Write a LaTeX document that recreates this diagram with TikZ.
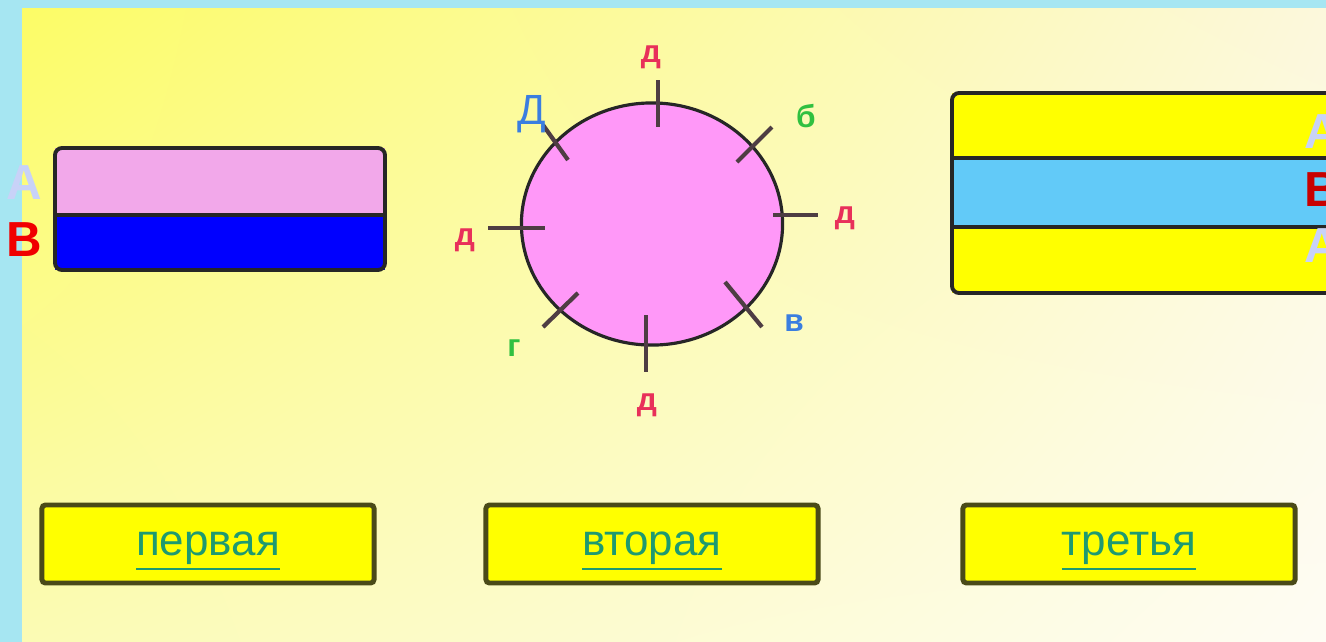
\documentclass[tikz,border=0pt]{standalone}
\usepackage{fontspec}
\setmainfont{Liberation Sans}
\usetikzlibrary{shapes.geometric,shadings}
\definecolor{skyback}{HTML}{A6E6F2}
\definecolor{panelA}{HTML}{FCFC66}
\definecolor{panelB}{HTML}{FCF8DC}
\definecolor{panelC}{HTML}{FBFBB4}
\definecolor{panelD}{HTML}{FEFCF4}
\definecolor{pinkband}{HTML}{F2A8EA}
\definecolor{blueband}{HTML}{0000FF}
\definecolor{yellowband}{HTML}{FFFF00}
\definecolor{cyanband}{HTML}{62CAF8}
\definecolor{diskpink}{HTML}{FF98F8}
\definecolor{lavender}{HTML}{C8D2F8}
\definecolor{redletter}{HTML}{F00000}
\definecolor{darkred}{HTML}{C80000}
\definecolor{rosered}{HTML}{E8305A}
\definecolor{leafgreen}{HTML}{30C040}
\definecolor{inkblue}{HTML}{3A7EE0}
\definecolor{tealtext}{HTML}{1E9A70}
\definecolor{olivedark}{HTML}{4A4A18}
\tikzset{
  band/.style={draw=black!85, line width=1.1pt},
  tick/.style={draw=black!80!magenta, line width=1.2pt},
  side/.style={font=\fontsize{14}{14}\selectfont\bfseries, inner sep=0pt},
  lett/.style={font=\fontsize{9}{9}\selectfont\bfseries, inner sep=0pt},
  btn/.style={draw=olivedark, fill=yellowband, line width=1.4pt, rounded corners=1pt,
    minimum width=3.32cm, minimum height=0.78cm, text=tealtext,
    text height=0.22cm, text depth=0pt,
    font=\fontsize{12.5}{12.5}\selectfont}
}

\begin{document}
\begin{tikzpicture}[x=0.01cm, y=-0.01cm]
    \useasboundingbox (0,0) rectangle (1326,642);
    \clip (0,0) rectangle (1326,642);

    % Background and panel
    \fill[skyback] (0,0) rectangle (1326,642);
    \shade[upper left=panelA, upper right=panelB, lower left=panelC, lower right=panelD]
      (22,8) rectangle (1326,642);

    % First flag: two bands
    \fill[pinkband] (55,148) rectangle (385,215);
    \fill[blueband] (55,215) rectangle (385,270);
    \draw[band] (55,215) -- (385,215);
    \draw[band, rounded corners=2pt] (55,148) rectangle (385,270);
    \node[side, text=lavender] (firstA) at (24,183) {А};
    \node[side, text=redletter] (firstB) at (24,240) {В};

    % Second figure: disk with ticks
    \node[ellipse, draw=black!85, line width=0.9pt, fill=diskpink,
      minimum width=2.61cm, minimum height=2.42cm] (disk) at (652,224) {};
    \draw[tick] (658,80) -- (658,127);
    \draw[tick] (772,127) -- (737,162);
    \draw[tick] (773,215) -- (818,215);
    \draw[tick] (725,282) -- (762,327);
    \draw[tick] (646,315) -- (646,372);
    \draw[tick] (578,293) -- (543,327);
    \draw[tick] (488,228) -- (545,228);
    \draw[tick] (543,125) -- (568,160);
    \node[lett, text=rosered] (topD) at (651,57) {д};
    \node[lett, text=leafgreen] (rightB) at (806,116) {б};
    \node[lett, text=rosered] (rightD) at (845,218) {д};
    \node[lett, text=inkblue] (lowV) at (794,323) {в};
    \node[lett, text=rosered] (bottomD) at (647,405) {д};
    \node[lett, text=leafgreen] (lowG) at (514,348) {г};
    \node[lett, text=rosered] (leftD) at (465,240) {д};
    \node[font=\fontsize{12}{12}\selectfont, inner sep=0pt, text=inkblue] (cornerD) at (532,114) {Д};

    % Third flag: three bands
    \fill[yellowband] (952,93) rectangle (1340,158);
    \fill[cyanband] (952,158) rectangle (1340,227);
    \fill[yellowband] (952,227) rectangle (1340,293);
    \draw[band] (952,158) -- (1340,158);
    \draw[band] (952,227) -- (1340,227);
    \draw[band, rounded corners=2pt] (952,93) rectangle (1340,293);
    \node[side, text=lavender, anchor=west] (thirdA) at (1304,132) {А};
    \node[side, text=darkred, anchor=west] (thirdB) at (1304,190) {В};
    \node[side, text=lavender, anchor=west] (thirdC) at (1304,246) {А};

    % Buttons
    \node[btn] (first) at (208,544) {\underline{первая}};
    \node[btn] (second) at (652,544) {\underline{вторая}};
    \node[btn] (third) at (1129,544) {\underline{третья}};
\end{tikzpicture}
\end{document}
